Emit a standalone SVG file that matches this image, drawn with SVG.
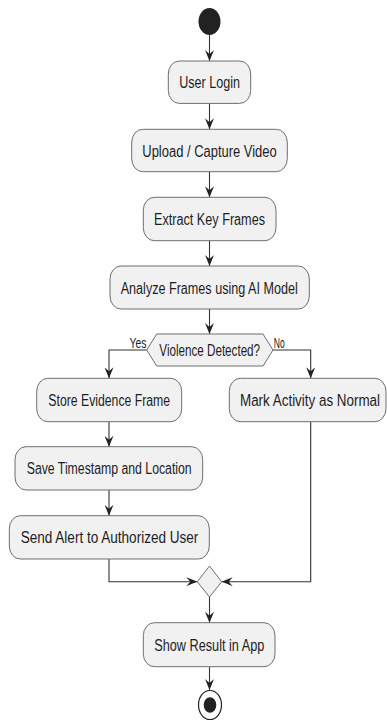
<svg xmlns="http://www.w3.org/2000/svg" width="387" height="721" viewBox="0 0 387 721">
<style>
.box{fill:#f1f1f1;stroke:#6e6e6e;stroke-width:1}
.t{font-family:"Liberation Sans",Arial,sans-serif;font-size:12.6px;fill:#1e1e1e;text-anchor:middle}
.lbl{font-family:"Liberation Sans",Arial,sans-serif;font-size:11px;fill:#1e1e1e}
.c{fill:none;stroke:#333;stroke-width:1.1}
</style>
<defs>
<marker id="ah" viewBox="0 0 11 9" refX="11" refY="4.5" markerWidth="11" markerHeight="9" markerUnits="userSpaceOnUse" orient="auto">
<path d="M0,0 L11,4.5 L0,9 L4,4.5 Z" fill="#222"/>
</marker>
</defs>
<rect width="387" height="721" fill="#ffffff"/>
<g id="connectors">
<path class="c" d="M209.5,35 V61" marker-end="url(#ah)"/>
<path class="c" d="M209.5,103.4 V129.3" marker-end="url(#ah)"/>
<path class="c" d="M209.5,171.7 V197.3" marker-end="url(#ah)"/>
<path class="c" d="M209.5,240.7 V266" marker-end="url(#ah)"/>
<path class="c" d="M209.5,309 V334" marker-end="url(#ah)"/>
<path class="c" d="M146.7,350 H109 V378.3" marker-end="url(#ah)"/>
<path class="c" d="M273,350 H310.7 V378.3" marker-end="url(#ah)"/>
<path class="c" d="M109,421.7 V446.7" marker-end="url(#ah)"/>
<path class="c" d="M109,490 V515.7" marker-end="url(#ah)"/>
<path class="c" d="M109,559 V581.7 H197.3" marker-end="url(#ah)"/>
<path class="c" d="M310.7,421.7 V581.7 H221.7" marker-end="url(#ah)"/>
<path class="c" d="M209.5,597 V622.7" marker-end="url(#ah)"/>
<path class="c" d="M209.5,666.7 V690" marker-end="url(#ah)"/>
<text class="lbl" transform="translate(129.5,348) scale(1,1.27)" textLength="17" lengthAdjust="spacingAndGlyphs">Yes</text>
<text class="lbl" transform="translate(273.8,348) scale(1,1.27)" textLength="11" lengthAdjust="spacingAndGlyphs">No</text>
</g>
<g id="start"><ellipse cx="209.5" cy="21.5" rx="11" ry="13.5" fill="#222"/></g>
<g id="userLogin"><rect class="box" x="168.3" y="61" width="82.4" height="42.4" rx="11" ry="13"/><text class="t" transform="translate(209.6,88.3) scale(1,1.27)" textLength="60.7" lengthAdjust="spacingAndGlyphs">User Login</text></g>
<g id="upload"><rect class="box" x="131.7" y="129.3" width="155.6" height="42.4" rx="11" ry="13"/><text class="t" transform="translate(209.5,156.6) scale(1,1.27)" textLength="134.4" lengthAdjust="spacingAndGlyphs">Upload / Capture Video</text></g>
<g id="extract"><rect class="box" x="143.3" y="197.3" width="132.7" height="43.4" rx="11" ry="13"/><text class="t" transform="translate(209.5,225) scale(1,1.27)" textLength="111" lengthAdjust="spacingAndGlyphs">Extract Key Frames</text></g>
<g id="analyze"><rect class="box" x="110" y="266" width="199.3" height="43" rx="11" ry="13"/><text class="t" transform="translate(209.2,293.5) scale(1,1.27)" textLength="177" lengthAdjust="spacingAndGlyphs">Analyze Frames using AI Model</text></g>
<g id="decision"><polygon class="box" points="146.7,350 156.7,334 263,334 273,350 263,366 156.7,366"/><text class="t" transform="translate(209.7,356) scale(1,1.27)" textLength="100.7" lengthAdjust="spacingAndGlyphs">Violence Detected?</text></g>
<g id="storeEvidence"><rect class="box" x="36.7" y="378.3" width="145" height="43.4" rx="11" ry="13"/><text class="t" transform="translate(109.2,406) scale(1,1.27)" textLength="121.7" lengthAdjust="spacingAndGlyphs">Store Evidence Frame</text></g>
<g id="markNormal"><rect class="box" x="229.3" y="378.3" width="156.7" height="43.4" rx="11" ry="13"/><text class="t" transform="translate(310,406) scale(1,1.27)" textLength="140" lengthAdjust="spacingAndGlyphs">Mark Activity as Normal</text></g>
<g id="saveTimestamp"><rect class="box" x="15" y="446.7" width="187.7" height="43.3" rx="11" ry="13"/><text class="t" transform="translate(109.2,474.3) scale(1,1.27)" textLength="165" lengthAdjust="spacingAndGlyphs">Save Timestamp and Location</text></g>
<g id="sendAlert"><rect class="box" x="9.3" y="515.7" width="200" height="43.3" rx="11" ry="13"/><text class="t" transform="translate(109.5,543.3) scale(1,1.27)" textLength="177.7" lengthAdjust="spacingAndGlyphs">Send Alert to Authorized User</text></g>
<g id="merge"><polygon class="box" points="209.5,566 221.7,581.7 209.5,597 197.3,581.7"/></g>
<g id="showResult"><rect class="box" x="143.3" y="622.7" width="131.7" height="44" rx="11" ry="13"/><text class="t" transform="translate(209.3,650.7) scale(1,1.27)" textLength="110" lengthAdjust="spacingAndGlyphs">Show Result in App</text></g>
<g id="end"><ellipse cx="210" cy="705" rx="11.5" ry="14.5" fill="#fff" stroke="#222" stroke-width="1.2"/><ellipse cx="210" cy="705" rx="6.3" ry="7.8" fill="#222"/></g>
</svg>
